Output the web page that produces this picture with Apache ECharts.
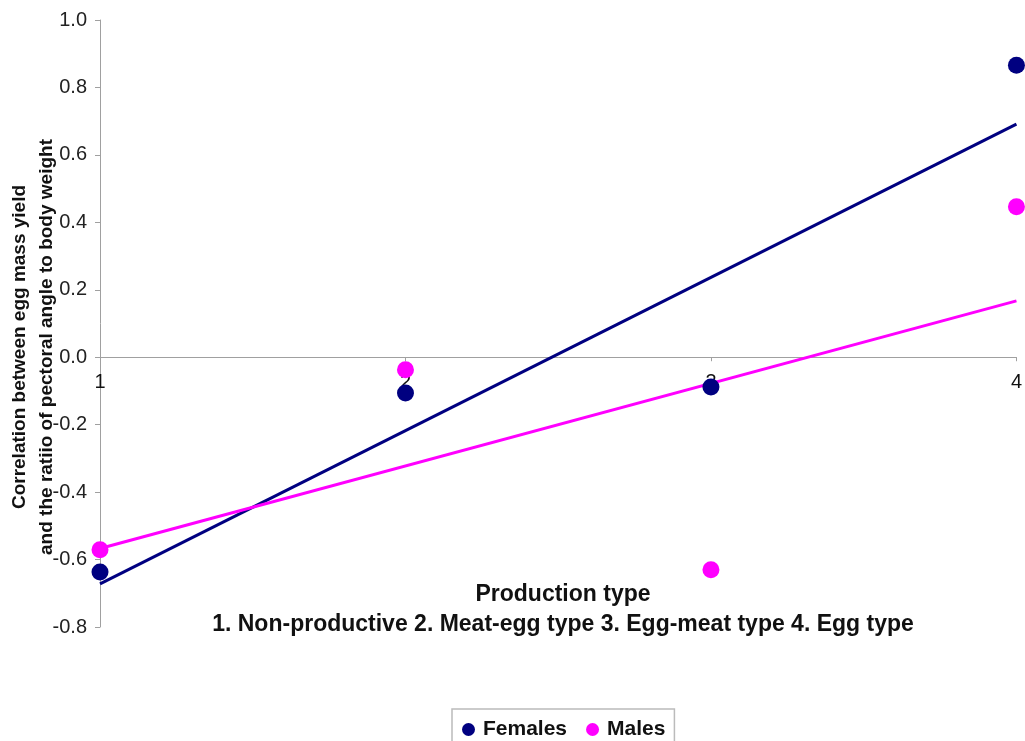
<!DOCTYPE html>
<html><head><meta charset="utf-8">
<script src="https://cdn.jsdelivr.net/npm/echarts@6/dist/echarts.min.js"></script>
<style>html,body{margin:0;padding:0;background:#fff}#c{width:1025px;height:741px}</style>
</head><body><div id="c"></div>
<script>
const productionTypes = [1, 2, 3, 4];
const femalesValues = [-0.637, -0.106, -0.088, 0.866];
const malesValues = [-0.571, -0.037, -0.630, 0.446];
const femalesTrendEnds = [-0.672, 0.691];
const malesTrendEnds = [-0.567, 0.167];
const yTicks = [-0.8, -0.6, -0.4, -0.2, 0.0, 0.2, 0.4, 0.6, 0.8, 1.0];

const FEM = '#000080', MAL = '#ff00ff';
const font = 'Liberation Sans, Arial, sans-serif';

const gridTop = 20, gridBottom = 114, H = 741;
const yMin = -0.8, yMax = 1.0;
const plotH = H - gridTop - gridBottom;
const zeroOffset = -(plotH * (0 - yMin) / (yMax - yMin));

const chart = echarts.init(document.getElementById('c'));
chart.setOption({
  animation: false,
  grid: { left: 100, right: 4, top: gridTop, bottom: gridBottom, containLabel: false },
  xAxis: {
    type: 'value', min: 1, max: 4, interval: 1, offset: zeroOffset,
    axisLine: { onZero: false, lineStyle: { color: '#a0a0a0', width: 1 } },
    axisTick: { show: true, length: 4, lineStyle: { color: '#a0a0a0' } },
    axisLabel: { margin: 15, fontSize: 20, color: '#111', fontFamily: font,
      formatter: v => String(v) },
    splitLine: { show: false }
  },
  yAxis: {
    type: 'value', min: yMin, max: yMax, interval: 0.2,
    axisLine: { show: true, lineStyle: { color: '#a0a0a0', width: 1 } },
    axisTick: { show: true, length: 5, lineStyle: { color: '#a0a0a0' } },
    axisLabel: { margin: 13, fontSize: 20, color: '#222', fontFamily: font,
      formatter: v => { const t = yTicks.find(x => Math.abs(x - v) < 1e-9); return (t !== undefined ? t : v).toFixed(1); } },
    splitLine: { show: false }
  },
  legend: {
    data: ['Females', 'Males'],
    left: 452, top: 709,
    icon: 'circle', itemWidth: 13, itemHeight: 13, itemGap: 19,
    borderColor: '#bbbbbb', borderWidth: 1.5, padding: [10, 9, 12, 10],
    textStyle: { fontSize: 21, fontWeight: 'bold', color: '#111', fontFamily: font, padding: [0, 0, 0, 3] }
  },
  title: [
    { text: 'Production type', left: 558, top: 578, textAlign: 'center',
      textStyle: { fontSize: 23, fontWeight: 'bold', color: '#111', fontFamily: font } },
    { text: '1. Non-productive 2. Meat-egg type 3. Egg-meat type 4. Egg type', left: 558, top: 608, textAlign: 'center',
      textStyle: { fontSize: 23, fontWeight: 'bold', color: '#111', fontFamily: font } }
  ],
  graphic: [
    { type: 'text', x: 20, y: 347, rotation: Math.PI / 2,
      style: { text: 'Correlation between egg mass yield', fontSize: 19, fontWeight: 'bold', fill: '#111', fontFamily: font, align: 'center', verticalAlign: 'middle' } },
    { type: 'text', x: 47, y: 347, rotation: Math.PI / 2,
      style: { text: 'and the ratiio of pectoral angle to body weight', fontSize: 19, fontWeight: 'bold', fill: '#111', fontFamily: font, align: 'center', verticalAlign: 'middle' } }
  ],
  series: [
    { name: 'Females trend', type: 'line', showSymbol: false, silent: true, z: 2,
      data: [[productionTypes[0], femalesTrendEnds[0]], [productionTypes[3], femalesTrendEnds[1]]],
      lineStyle: { color: FEM, width: 3 }, itemStyle: { color: FEM } },
    { name: 'Males trend', type: 'line', showSymbol: false, silent: true, z: 2,
      data: [[productionTypes[0], malesTrendEnds[0]], [productionTypes[3], malesTrendEnds[1]]],
      lineStyle: { color: MAL, width: 3 }, itemStyle: { color: MAL } },
    { name: 'Females', type: 'scatter', symbol: 'circle', symbolSize: 17, z: 3,
      data: productionTypes.map((x, i) => [x, femalesValues[i]]), itemStyle: { color: FEM, opacity: 1 } },
    { name: 'Males', type: 'scatter', symbol: 'circle', symbolSize: 17, z: 3,
      data: productionTypes.map((x, i) => [x, malesValues[i]]), itemStyle: { color: MAL, opacity: 1 } }
  ]
});
</script></body></html>
